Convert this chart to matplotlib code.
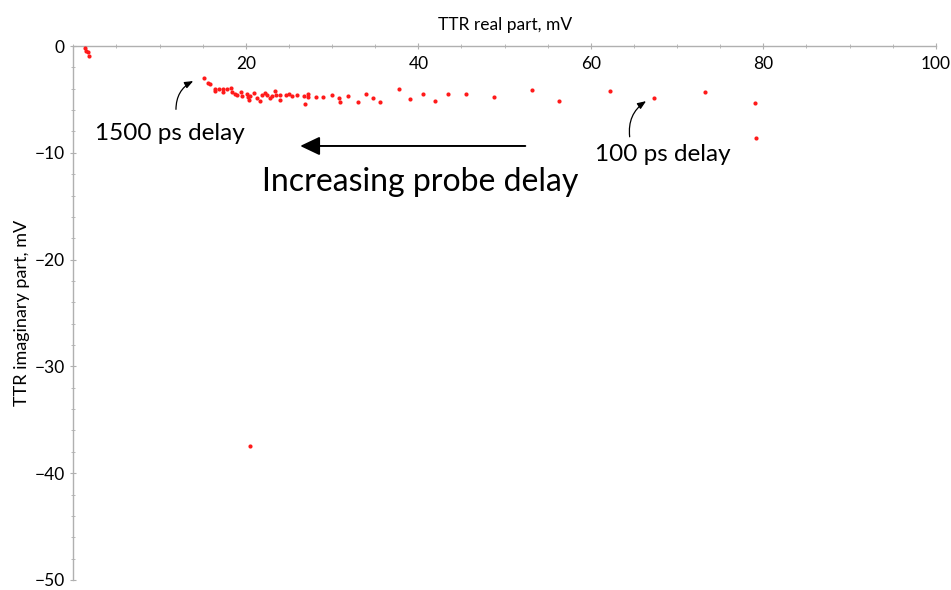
import numpy as np
import matplotlib.pyplot as plt
from matplotlib.ticker import MultipleLocator

plt.rcParams["font.family"] = ["Lato", "DejaVu Sans"]

# TTR signal (real, imaginary parts in mV) for each probe delay
ttr_real = [
    1.4, 1.5, 1.7, 1.85,
    15.1, 15.65, 15.9, 16.4, 16.4, 16.85, 17.3, 17.3, 17.8, 18.3, 18.4,
    18.8, 19.0, 19.4, 19.5, 20.1, 20.2, 20.4, 20.5, 20.9, 21.25, 21.6,
    21.9, 22.2, 22.4, 22.8, 23.0, 23.4, 23.5, 23.95, 23.95, 24.7, 25.0,
    25.3, 25.95, 26.8, 26.9, 27.2, 27.2, 28.1, 29.0, 30.0, 30.75, 30.9,
    31.9, 32.95, 33.9, 34.8, 35.6, 37.8, 39.05, 40.5, 41.9, 43.4, 45.5,
    48.8, 53.2, 56.3, 62.2, 67.3, 73.2, 79.0, 79.1,
    20.5,
]
ttr_imag = [
    -0.15, -0.5, -0.6, -0.9,
    -3.0, -3.46, -3.56, -4.0, -4.18, -4.0, -4.03, -4.3, -4.0, -3.93, -4.3,
    -4.49, -4.62, -4.3, -4.71, -4.46, -4.8, -5.09, -4.71, -4.43, -4.87, -5.15,
    -4.56, -4.37, -4.62, -4.87, -4.71, -4.18, -4.56, -5.09, -4.56, -4.62, -4.46,
    -4.71, -4.56, -4.68, -5.4, -4.53, -4.81, -4.78, -4.78, -4.62, -4.87, -5.24,
    -4.71, -5.21, -4.46, -4.9, -5.21, -4.03, -4.96, -4.53, -5.12, -4.53, -4.53,
    -4.78, -4.09, -5.12, -4.18, -4.87, -4.28, -5.37, -8.61,
    -37.5,
]

x_ticks = [20, 40, 60, 80, 100]
y_ticks = [0, -10, -20, -30, -40, -50]

fig = plt.figure(figsize=(9.51, 5.90), dpi=100)
ax = fig.add_axes([0.0771, 0.017, 0.907, 0.905])

ax.scatter(ttr_real, ttr_imag, s=9, color="#ff1a1a", linewidths=0,
           clip_on=False, zorder=3)

ax.set_xlim(0, 100)
ax.set_ylim(-50, 0)

axis_grey = "#b0b0b0"
for side in ["bottom", "right"]:
    ax.spines[side].set_visible(False)
for side in ["top", "left"]:
    ax.spines[side].set_color(axis_grey)
    ax.spines[side].set_linewidth(1.0)

ax.set_xticks(x_ticks)
ax.set_yticks(y_ticks)
ax.set_yticklabels(["0" if v == 0 else "\u2212%d" % -v for v in y_ticks])
ax.xaxis.set_minor_locator(MultipleLocator(5))
ax.yaxis.set_minor_locator(MultipleLocator(2))

# x axis sits on y = 0 at the top, its labels hang just below the line
ax.tick_params(axis="x", which="both", top=True, bottom=False,
               labeltop=True, labelbottom=False, direction="inout",
               color=axis_grey, pad=-21, labelsize=12.5)
ax.tick_params(axis="y", which="both", direction="inout", color=axis_grey,
               pad=4, labelsize=12.5)
ax.tick_params(which="major", length=4.5, width=0.8)
ax.tick_params(which="minor", length=2.5, width=0.6)

ax.set_xlabel("TTR real part, mV", fontsize=12.5, labelpad=9)
ax.xaxis.set_label_position("top")
ax.set_ylabel("TTR imaginary part, mV", fontsize=13, labelpad=3)

# annotations
ax.text(11.2, -8.15, "1500 ps delay", fontsize=17.5, ha="center", va="center")
ax.annotate("", xy=(13.9, -3.28), xytext=(11.9, -5.93),
            arrowprops=dict(arrowstyle="-|>,head_length=0.5,head_width=0.2",
                            connectionstyle="arc3,rad=-0.3", color="black",
                            lw=0.9, shrinkA=0, shrinkB=0))

ax.text(68.3, -10.2, "100 ps delay", fontsize=17.5, ha="center", va="center")
ax.annotate("", xy=(66.4, -5.16), xytext=(64.5, -8.5),
            arrowprops=dict(arrowstyle="-|>,head_length=0.5,head_width=0.2",
                            connectionstyle="arc3,rad=-0.3", color="black",
                            lw=0.9, shrinkA=0, shrinkB=0))

ax.annotate("", xy=(26.3, -9.36), xytext=(52.4, -9.36),
            arrowprops=dict(arrowstyle="-|>,head_length=0.8,head_width=0.38",
                            color="black", lw=1.4, shrinkA=0, shrinkB=0,
                            mutation_scale=15))
ax.text(40.2, -12.7, "Increasing probe delay", fontsize=23,
        ha="center", va="center")

fig.savefig("out.png", dpi=100)
